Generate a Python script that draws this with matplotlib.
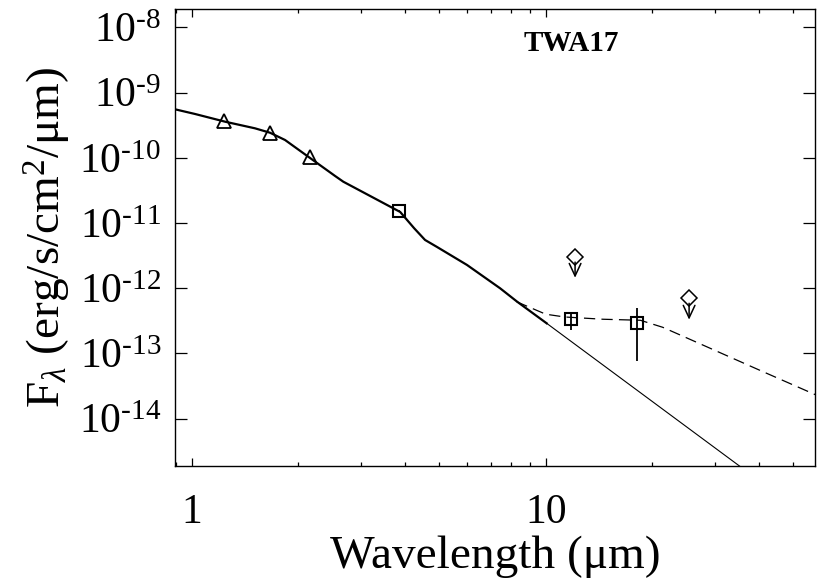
import numpy as np
import matplotlib
matplotlib.use("Agg")
import matplotlib.pyplot as plt

plt.rcParams['font.family'] = ['Liberation Serif', 'DejaVu Serif']
plt.rcParams['mathtext.fontset'] = 'custom'
plt.rcParams['mathtext.rm'] = 'Liberation Serif'
plt.rcParams['mathtext.it'] = 'Liberation Serif:italic'

# photometry (microns, erg/s/cm2/um)
nir_wave = [1.235, 1.662, 2.159]
nir_flux = [3.65e-10, 2.40e-10, 1.03e-10]

phot_wave = [3.85, 11.8, 18.1]
phot_flux = [1.55e-11, 3.35e-13, 2.90e-13]
phot_lo = [1.50e-11, 2.27e-13, 7.6e-14]
phot_hi = [1.60e-11, 4.28e-13, 4.93e-13]

lim_wave = [12.1, 25.4]
lim_flux = [3.0e-12, 7.0e-13]
lim_tip = [1.45e-12, 3.3e-13]

# stellar photosphere
star_wave = [0.897, 1.022, 1.242, 1.509, 1.664, 1.835, 2.135, 2.54, 2.68,
             3.88, 4.25, 4.56, 4.93, 5.99, 7.43, 8.30, 10.06]
star_flux = [5.56e-10, 4.71e-10, 3.59e-10, 2.84e-10, 2.43e-10, 1.88e-10,
             1.04e-10, 5.28e-11, 4.31e-11, 1.48e-11, 8.32e-12, 5.51e-12,
             4.30e-12, 2.28e-12, 1.0e-12, 6.23e-13, 2.9e-13]

# Rayleigh-Jeans extension
rj_wave = [10.06, 40.0]
rj_flux = [2.9e-13, 1.13e-15]

# disk model
disk_wave = [8.28, 10.0, 11.3, 14.5, 18.5, 21.4, 24.4, 40.0, 58.3]
disk_flux = [6.2e-13, 4.0e-13, 3.63e-13, 3.35e-13, 3.23e-13, 2.52e-13,
             1.84e-13, 5.6e-14, 2.28e-14]

fig = plt.figure(figsize=(8.17, 5.88), dpi=100)
ax = fig.add_axes([175 / 817., 1 - 466 / 588., 640 / 817., 457 / 588.])

ax.plot(star_wave, star_flux, color="black", lw=1.6)
ax.plot(rj_wave, rj_flux, color="black", lw=0.8)
ax.plot(disk_wave, disk_flux, color="black", lw=0.9, ls=(0, (9, 5)))

ax.plot(nir_wave, nir_flux, ls="none", marker="^", ms=10.5, mfc="none",
        mec="black", mew=1.3)
yerr = [np.array(phot_flux) - np.array(phot_lo),
        np.array(phot_hi) - np.array(phot_flux)]
ax.errorbar(phot_wave, phot_flux, yerr=yerr, ls="none", marker="s", ms=9,
            mfc="none", mec="black", mew=1.5, ecolor="black", elinewidth=1.3,
            capsize=0)
ax.plot(lim_wave, lim_flux, ls="none", marker="D", ms=8, mfc="none",
        mec="black", mew=1.1)
for w, f, t in zip(lim_wave, lim_flux, lim_tip):
    ax.annotate("", xy=(w, t), xytext=(w, f * 0.84),
                arrowprops=dict(arrowstyle="->,head_length=0.9,head_width=0.42",
                                color="black", lw=1.1, shrinkA=0, shrinkB=0))

ax.set_xscale("log")
ax.set_yscale("log")
ax.set_xlim(0.897, 57.6)
ax.set_ylim(1.88e-15, 1.92e-8)

ax.set_xticks([1, 10])
ax.set_xticklabels(["1", "10"])
yt = [1e-14, 1e-13, 1e-12, 1e-11, 1e-10, 1e-9, 1e-8]
ax.set_yticks(yt)
ax.set_yticklabels([r"$10^{\text{-%d}}$" % (-int(np.log10(v) - 0.5)) for v in yt])
ax.yaxis.set_minor_locator(matplotlib.ticker.NullLocator())
ax.tick_params(axis="both", which="both", direction="in", top=True,
               right=True, labelsize=30, width=0.9)
ax.tick_params(axis="y", which="major", length=8.6, pad=10)
ax.tick_params(axis="x", which="major", length=5.8, pad=20)
ax.tick_params(axis="x", which="minor", length=2.9)
for s in ax.spines.values():
    s.set_linewidth(1.0)

ax.set_xlabel(u"Wavelength (\u03bcm)", fontsize=34, labelpad=2)
ax.set_ylabel(u"F$_\\lambda$ (erg/s/cm$^2$/\u03bcm)", fontsize=34, labelpad=4)
ax.text(0.62, 0.925, "TWA17", transform=ax.transAxes, fontsize=21,
        fontweight="bold", ha="center", va="center")

fig.savefig("out.png", dpi=100)
